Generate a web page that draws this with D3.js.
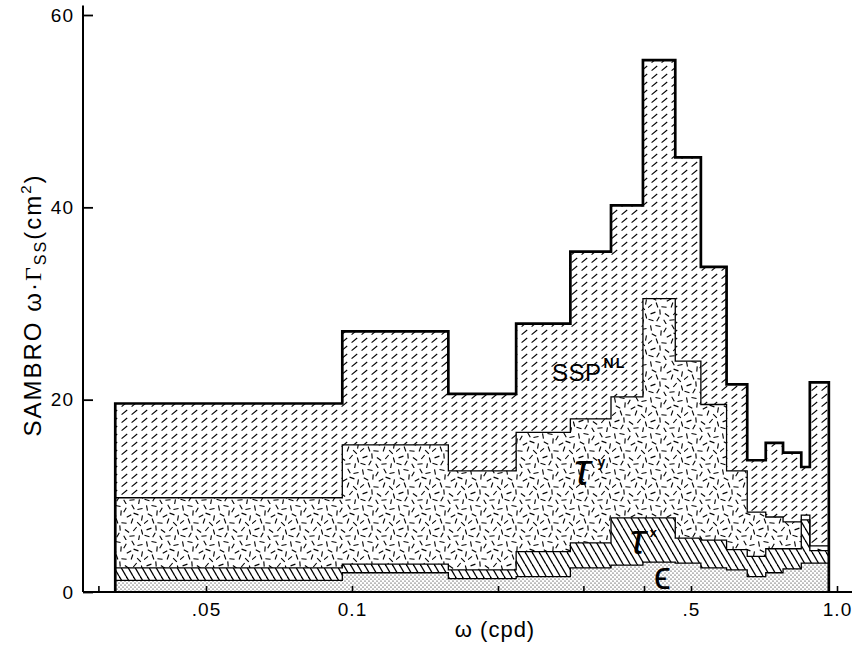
<!DOCTYPE html>
<html>
<head>
<meta charset="utf-8">
<script src="https://cdn.jsdelivr.net/npm/d3@7"></script>
<style>
  body { margin: 0; background: #fff; }
  svg { display: block; }
  text { font-family: "Liberation Sans", Arial, Helvetica, sans-serif; fill: #000; }
</style>
</head>
<body>
<svg id="chart" width="852" height="646"></svg>
<script>
// Frequency band edges (cycles per day)
const bandEdges = [0.0325, 0.0955, 0.158, 0.218, 0.282, 0.342, 0.398, 0.464,
                   0.524, 0.592, 0.653, 0.713, 0.774, 0.844, 0.879, 0.962];

// Contributions per band to SAMBRO w*Gamma_ss (cm^2), stacked bottom to top
const epsilon = [1.2, 2.0, 1.4, 1.6, 2.5, 2.8, 3.1, 3.0, 2.5, 2.3, 1.6, 2.0, 2.4, 3.0, 3.0];
const tauX    = [1.3, 0.9, 0.9, 2.6, 2.6, 4.9, 4.6, 2.6, 2.9, 2.1, 2.1, 2.5, 2.1, 4.5, 1.3];
const tauY    = [7.3, 12.4, 10.3, 12.4, 12.9, 12.6, 22.8, 18.4, 14.1, 8.2, 4.6, 3.3, 2.8, 0.5, 0.5];
const sspNL   = [9.8, 11.8, 8.0, 11.3, 17.4, 19.9, 24.8, 21.2, 14.3, 9.0, 5.4, 7.7, 7.2, 5.0, 17.0];

const seriesKeys = ["epsilon", "tauX", "tauY", "sspNL"];

// Axis ticks
const yTicks = [0, 20, 40, 60];
const xTicks = [0.03, 0.05, 0.1, 0.2, 0.3, 0.4, 0.5, 1.0];
const xTickLabels = new Map([[0.05, ".05"], [0.1, "0.1"], [0.5, ".5"], [1.0, "1.0"]]);

const svg = d3.select("#chart");

const x = d3.scaleLog().domain([0.1, 1.0]).range([352, 837]);
const y = d3.scaleLinear().domain([0, 60]).range([592, 15]);

// ---------- fill patterns ----------
const defs = svg.append("defs");

// SSP^NL: rows of short slanted dashes
const pSsp = defs.append("pattern").attr("id", "pat-ssp")
  .attr("patternUnits", "userSpaceOnUse").attr("width", 10).attr("height", 8);
pSsp.append("line").attr("x1", 1.6).attr("y1", 6.6).attr("x2", 7.2).attr("y2", 2.0)
  .attr("stroke", "#000").attr("stroke-width", 1.15);

// tau^y: scattered short dashes in many directions
const confetti = [
  [3,4,80],[10,2,10],[17,6,120],[25,3,60],[32,5,170],
  [6,11,30],[13,9,95],[21,12,150],[28,10,20],[34,14,100],
  [2,18,140],[9,17,70],[16,19,5],[24,17,110],[31,20,45],
  [5,25,160],[12,24,85],[19,27,35],[27,25,130],[34,28,75],
  [3,32,15],[10,31,120],[17,34,60],[24,32,175],[31,34,100]
];
const pTy = defs.append("pattern").attr("id", "pat-tauy")
  .attr("patternUnits", "userSpaceOnUse").attr("width", 36).attr("height", 36);
confetti.forEach(([cx, cy, a]) => {
  const r = a * Math.PI / 180, h = 2.6;
  pTy.append("line")
    .attr("x1", cx - h * Math.cos(r)).attr("y1", cy - h * Math.sin(r))
    .attr("x2", cx + h * Math.cos(r)).attr("y2", cy + h * Math.sin(r))
    .attr("stroke", "#000").attr("stroke-width", 1.1);
});

// tau^x: steep back-slash hatching
const pTx = defs.append("pattern").attr("id", "pat-taux")
  .attr("patternUnits", "userSpaceOnUse").attr("width", 7).attr("height", 12);
[-7, 0, 7].forEach(dx => {
  pTx.append("line").attr("x1", dx).attr("y1", 0).attr("x2", dx + 7).attr("y2", 12)
    .attr("stroke", "#000").attr("stroke-width", 1.3);
});

// epsilon: fine stipple
const pEps = defs.append("pattern").attr("id", "pat-eps")
  .attr("patternUnits", "userSpaceOnUse").attr("width", 4).attr("height", 4);
[[1, 1], [3, 3]].forEach(([cx, cy]) => {
  pEps.append("circle").attr("cx", cx).attr("cy", cy).attr("r", 0.6).attr("fill", "#000");
});

const fills = { epsilon: "url(#pat-eps)", tauX: "url(#pat-taux)", tauY: "url(#pat-tauy)", sspNL: "url(#pat-ssp)" };

// ---------- stacked band data ----------
const rows = epsilon.map((_, i) => ({
  f0: bandEdges[i], f1: bandEdges[i + 1],
  epsilon: epsilon[i], tauX: tauX[i], tauY: tauY[i], sspNL: sspNL[i]
}));
const stacked = d3.stack().keys(seriesKeys)(rows);

// each band becomes a flat step between its two edges
function stepPoints(layer) {
  const pts = [];
  layer.forEach(d => {
    pts.push({ f: d.data.f0, lo: d[0], hi: d[1] });
    pts.push({ f: d.data.f1, lo: d[0], hi: d[1] });
  });
  return pts;
}

const area = d3.area().x(d => x(d.f)).y0(d => y(d.lo)).y1(d => y(d.hi));
const line = d3.line().x(d => x(d.f)).y(d => y(d.v));

const plot = svg.append("g");

stacked.forEach(layer => {
  plot.append("path")
    .attr("d", area(stepPoints(layer)))
    .attr("fill", fills[layer.key])
    .attr("stroke", "none");
});

// thin boundaries between components
stacked.slice(0, 3).forEach(layer => {
  const pts = stepPoints(layer).map(p => ({ f: p.f, v: p.hi }));
  plot.append("path")
    .attr("d", line(pts))
    .attr("fill", "none").attr("stroke", "#000").attr("stroke-width", 1.3);
});

// heavy outline of the total
const totalLayer = stacked[stacked.length - 1];
const outline = [{ f: bandEdges[0], v: 0 }]
  .concat(stepPoints(totalLayer).map(p => ({ f: p.f, v: p.hi })))
  .concat([{ f: bandEdges[bandEdges.length - 1], v: 0 }]);
plot.append("path")
  .attr("d", line(outline))
  .attr("fill", "none").attr("stroke", "#000").attr("stroke-width", 2.7)
  .attr("stroke-linejoin", "miter");

// ---------- axes ----------
const yAxis = d3.axisLeft(y).tickValues(yTicks).tickSizeInner(-10).tickSizeOuter(0).tickPadding(9);
const gy = svg.append("g").attr("transform", "translate(83,0)").call(yAxis);
gy.select(".domain").remove();
gy.selectAll(".tick line").attr("stroke", "#000").attr("stroke-width", 1.8);
gy.selectAll(".tick text").attr("font-size", 19).attr("letter-spacing", 1).attr("fill", "#000");
gy.append("line").attr("x1", 0).attr("x2", 0).attr("y1", y(0)).attr("y2", y(61))
  .attr("stroke", "#000").attr("stroke-width", 2);

const xAxis = d3.axisBottom(x).tickValues(xTicks).tickSizeInner(-6).tickSizeOuter(0).tickPadding(11)
  .tickFormat(v => xTickLabels.get(v) || "");
const gx = svg.append("g").attr("transform", `translate(0,${y(0)})`).call(xAxis);
gx.select(".domain").remove();
gx.selectAll(".tick line").attr("stroke", "#000").attr("stroke-width", 1.6);
gx.selectAll(".tick text").attr("font-size", 19).attr("letter-spacing", 1).attr("fill", "#000");
gx.append("line").attr("x1", 83).attr("x2", 852).attr("y1", 0).attr("y2", 0)
  .attr("stroke", "#000").attr("stroke-width", 2);

// axis titles
svg.append("text").attr("x", 495).attr("y", 637).attr("text-anchor", "middle")
  .attr("font-size", 22).attr("letter-spacing", 1).text("ω (cpd)");

const yTitle = svg.append("text")
  .attr("transform", "translate(41,305) rotate(-90)")
  .attr("text-anchor", "middle").attr("font-size", 24).attr("letter-spacing", 2);
yTitle.append("tspan").text("SAMBRO ω·");
yTitle.append("tspan").attr("font-family", "'Liberation Serif', 'DejaVu Serif', serif").text("Γ");
yTitle.append("tspan").attr("font-size", 16).attr("dy", 5).text("SS");
yTitle.append("tspan").attr("dy", -5).text("(cm");
yTitle.append("tspan").attr("font-size", 15).attr("dy", -10).text("2");
yTitle.append("tspan").attr("dy", 10).text(")");

// ---------- component labels ----------
const lab = svg.append("g");
const ssp = lab.append("text").attr("x", 552).attr("y", 381).attr("font-size", 24).attr("letter-spacing", 0.5);
ssp.append("tspan").text("SSP");
ssp.append("tspan").attr("font-size", 14).attr("font-weight", "bold").attr("dy", -13)
  .attr("letter-spacing", 2).attr("dx", 2).text("NL");

const ty = lab.append("text").attr("x", 574).attr("y", 485)
  .attr("font-family", "'DejaVu Serif', serif").attr("font-style", "italic").attr("font-size", 44);
ty.append("tspan").text("τ");
ty.append("tspan").attr("font-family", "'Liberation Sans', sans-serif").attr("font-style", "normal")
  .attr("font-weight", "bold").attr("font-size", 14).attr("dy", -18).attr("dx", 7).text("y");

const tx = lab.append("text").attr("x", 630).attr("y", 554)
  .attr("font-family", "'DejaVu Serif', serif").attr("font-style", "italic").attr("font-size", 42);
tx.append("tspan").text("τ");
tx.append("tspan").attr("font-family", "'Liberation Sans', sans-serif").attr("font-style", "normal")
  .attr("font-weight", "bold").attr("font-size", 13).attr("dy", -17).attr("dx", 4).text("x");

lab.append("text").attr("x", 654).attr("y", 589)
  .attr("font-family", "'DejaVu Sans', sans-serif").attr("font-size", 38).text("ϵ");
</script>
</body>
</html>
